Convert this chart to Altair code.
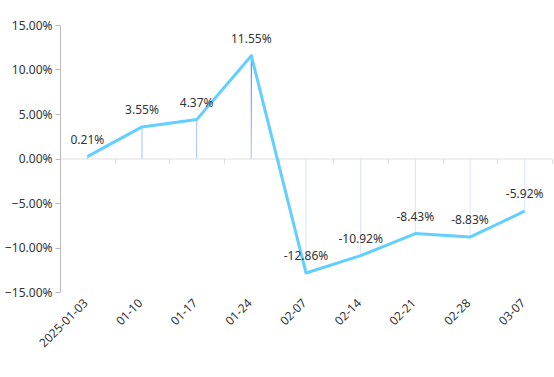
import altair as alt
import pandas as pd

dates = ["2025-01-03", "01-10", "01-17", "01-24", "02-07", "02-14", "02-21", "02-28", "03-07"]
values = [0.21, 3.55, 4.37, 11.55, -12.86, -10.92, -8.43, -8.83, -5.92]
y_ticks = [-15, -10, -5, 0, 5, 10, 15]

df = pd.DataFrame({"d": dates, "v": values})
df["label"] = [f"{v:.2f}%" for v in values]

FONT = "Noto Sans"
W, H = 492, 267

x_enc = alt.X(
    "d:N",
    sort=dates,
    scale=alt.Scale(paddingInner=0, paddingOuter=0),
    axis=alt.Axis(
        title=None,
        labelAngle=-45,
        labelAlign="right",
        labelBaseline="middle",
        labelOffset=-2,
        tickBand="extent",
        domainColor="#dddddd",
        tickColor="#dddddd",
        tickSize=5,
        offset=-H / 2,
        labelPadding=137,
        labelColor="#333333",
        labelFontSize=12,
        labelFont=FONT,
        grid=False,
    ),
)
y_scale = alt.Scale(domain=[-15, 15], nice=False)
y_enc = alt.Y(
    "v:Q",
    scale=y_scale,
    axis=alt.Axis(
        title=None,
        values=y_ticks,
        labelExpr="format(datum.value, '.2f') + '%'",
        grid=False,
        domainColor="#bbbbbb",
        tickColor="#bbbbbb",
        tickSize=5,
        labelPadding=3,
        labelColor="#333333",
        labelFontSize=12,
        labelFont=FONT,
    ),
)

base = alt.Chart(df)

bars = base.mark_bar(width=1).encode(
    x=x_enc,
    y=y_enc,
    y2=alt.datum(0),
    color=alt.condition("datum.v >= 0", alt.value("#aac0fb"), alt.value("#d9e3fe")),
)

big_bar = base.transform_filter("datum.v > 10").mark_bar(
    width=1,
    color=alt.Gradient(
        gradient="linear",
        stops=[
            alt.GradientStop(color="#c4d4fc", offset=0),
            alt.GradientStop(color="#4a7bf6", offset=1),
        ],
        x1=0, x2=0, y1=1, y2=0,
    ),
).encode(x=x_enc, y=y_enc, y2=alt.datum(0))

line = base.mark_line(color="#62cfff", strokeWidth=3, strokeJoin="round").encode(
    x=x_enc, y=y_enc
)

text = base.mark_text(
    dy=-17, fontSize=12, font=FONT, color="#333333", baseline="middle", align="center"
).encode(x=x_enc, y=y_enc, text="label:N")

chart = (
    alt.layer(bars, big_bar, line, text)
    .properties(
        width=W,
        height=H,
        autosize=alt.AutoSizeParams(type="none"),
        padding={"left": 60, "top": 25, "right": 2, "bottom": 85},
    )
    .configure_view(stroke=None)
)

chart.save("out.html", embed_options={"renderer": "svg", "actions": False})
